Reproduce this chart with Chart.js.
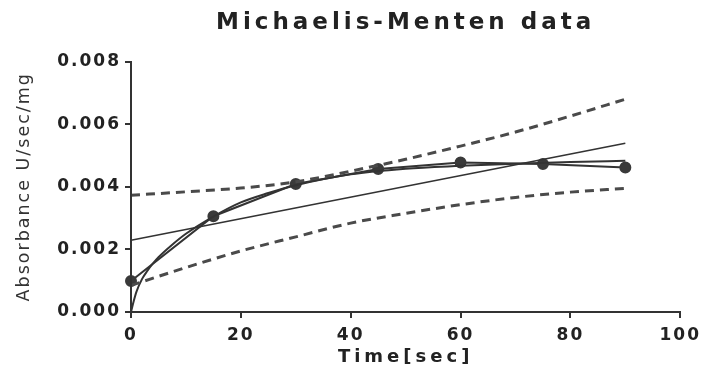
<!DOCTYPE html>
<html>
<head>
<meta charset="utf-8">
<script src="https://cdn.jsdelivr.net/npm/chart.js@4/dist/chart.umd.min.js"></script>
<style>
  html, body { margin: 0; padding: 0; background: #fff; }
  #wrap { width: 705px; height: 376px; }
</style>
</head>
<body>
<div id="wrap"><canvas id="mmChart" width="705" height="376"></canvas></div>
<script>
// measured points
const timeObs = [0, 15, 30, 45, 60, 75, 90];
const absObs = [0.00099, 0.00306, 0.00409, 0.00457, 0.00478, 0.00473, 0.00462];

// Michaelis-Menten fit curve
const fitTime = [0, 0.5, 1, 2, 3, 4, 5, 7.5, 10, 15, 20, 25, 30, 40, 50, 60, 70, 80, 90];
const fitAbs = [0, 0.00035, 0.00065, 0.00105, 0.00132, 0.00155, 0.00175, 0.00215, 0.0025, 0.00305,
  0.0035, 0.0038, 0.00405, 0.0044, 0.00458, 0.00467, 0.00474, 0.00479, 0.00483];

// straight line fit
const lineTime = [0, 90];
const lineAbs = [0.00229, 0.00539];

// dashed bands
const bandTime = [0, 10, 20, 30, 40, 50, 60, 70, 80, 90];
const bandUpper = [0.00373, 0.00384, 0.00396, 0.00416, 0.0045, 0.00488, 0.0053, 0.00575, 0.00626, 0.0068];
const bandLower = [0.00085, 0.00142, 0.00195, 0.0024, 0.00284, 0.00315, 0.00343, 0.00366, 0.00383, 0.00395];

// axis ticks
const xTicks = [0, 20, 40, 60, 80, 100];
const yTicks = [0, 0.002, 0.004, 0.006, 0.008];

function toPoints(xs, ys) {
  return xs.map((x, i) => ({ x: x, y: ys[i] }));
}

const ink = '#333';

// wide lettering like the scanned figure
const spacingPlugin = {
  id: 'spacing',
  beforeDraw(chart) { chart.ctx.letterSpacing = '4px'; },
  afterDatasetsDraw(chart) { chart.ctx.letterSpacing = '2px'; },
  afterDraw(chart) { chart.ctx.letterSpacing = '0px'; }
};

const dashed = {
  borderColor: '#4a4a4a',
  borderWidth: 3,
  borderDash: [9, 6],
  pointRadius: 0,
  fill: false,
  cubicInterpolationMode: 'monotone',
  clip: false
};

new Chart(document.getElementById('mmChart').getContext('2d'), {
  type: 'line',
  data: {
    datasets: [
      Object.assign({ label: 'upper', data: toPoints(bandTime, bandUpper) }, dashed),
      Object.assign({ label: 'lower', data: toPoints(bandTime, bandLower) }, dashed),
      {
        label: 'linear',
        data: toPoints(lineTime, lineAbs),
        borderColor: ink,
        borderWidth: 1.6,
        pointRadius: 0,
        clip: false
      },
      {
        label: 'fit',
        data: toPoints(fitTime, fitAbs),
        borderColor: ink,
        borderWidth: 2,
        pointRadius: 0,
        cubicInterpolationMode: 'monotone',
        clip: false
      },
      {
        label: 'data',
        data: toPoints(timeObs, absObs),
        borderColor: ink,
        borderWidth: 2,
        pointRadius: 5,
        pointBackgroundColor: '#3a3a3a',
        pointBorderColor: '#3a3a3a',
        tension: 0,
        clip: false
      }
    ]
  },
  options: {
    responsive: false,
    animation: false,
    layout: { padding: { left: 0, right: 24, top: 0, bottom: 0 } },
    plugins: {
      legend: { display: false },
      tooltip: { enabled: false },
      title: {
        display: true,
        text: 'Michaelis-Menten data',
        fullSize: false,
        color: '#222',
        font: { family: 'DejaVu Sans', size: 23, weight: 'bold' },
        padding: { top: 9, bottom: 25 }
      }
    },
    scales: {
      x: {
        type: 'linear',
        min: 0,
        max: 100,
        afterFit: (scale) => { scale.height = 64; },
        afterBuildTicks: (scale) => { scale.ticks = xTicks.map(v => ({ value: v })); },
        ticks: {
          z: 1,
          color: '#222',
          padding: 7,
          font: { family: 'DejaVu Sans', size: 17, weight: 'bold' }
        },
        grid: { drawOnChartArea: false, tickLength: 6, color: ink, lineWidth: 2 },
        border: { color: ink, width: 2 },
        title: {
          display: true,
          text: 'Time[sec]',
          color: '#222',
          font: { family: 'DejaVu Sans', size: 18, weight: 'bold' },
          padding: { top: 0, bottom: 8 }
        }
      },
      y: {
        min: 0,
        max: 0.008,
        afterFit: (scale) => { scale.width = 131; },
        afterBuildTicks: (scale) => { scale.ticks = yTicks.map(v => ({ value: v })); },
        ticks: {
          z: 1,
          color: '#222',
          padding: 4,
          font: { family: 'DejaVu Sans', size: 17, weight: 'bold' },
          callback: (v) => Number(v).toFixed(3)
        },
        grid: { z: 1, drawOnChartArea: false, tickLength: 6, color: ink, lineWidth: 2 },
        border: { z: 1, color: ink, width: 2 },
        title: {
          display: true,
          text: 'Absorbance U/sec/mg',
          color: '#333',
          font: { family: 'DejaVu Sans', size: 17.5 },
          padding: { top: 14, bottom: 0 }
        }
      }
    }
  },
  plugins: [spacingPlugin]
});
</script>
</body>
</html>
